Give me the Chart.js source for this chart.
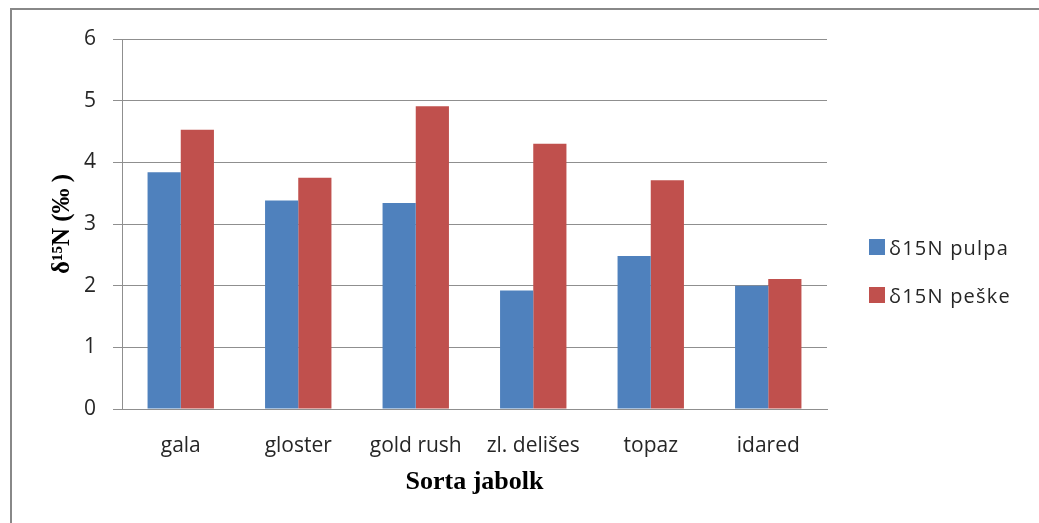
<!DOCTYPE html>
<html>
<head>
<meta charset="utf-8">
<script src="https://cdn.jsdelivr.net/npm/chart.js@4"></script>
<style>
    body { margin: 0; background: #fff; overflow: hidden; }
    #frame {
        position: absolute; left: 10px; top: 8px;
        width: 1200px; height: 700px;
        border: 2px solid #888;
    }
    #wrap { position: absolute; left: 0; top: 0; width: 1039px; height: 523px; }
    #legend {
        position: absolute; left: 869px; top: 235px;
        font-family: "Open Sans", sans-serif; font-size: 20px; color: #262626;
        letter-spacing: 1.2px;
    }
    .legend-row { display: flex; align-items: center; height: 24px; margin-bottom: 24px; }
    .legend-box { width: 16px; height: 16px; margin-right: 4px; }
</style>
</head>
<body>
<div id="frame"></div>
<div id="wrap"><canvas id="isotopeChart" width="1039" height="523"></canvas></div>
<div id="legend"></div>

<script>
const categories = ['gala', 'gloster', 'gold rush', 'zl. delišes', 'topaz', 'idared'];
const pulpa = [3.84, 3.38, 3.34, 1.92, 2.48, 2.00];
const peske = [4.53, 3.75, 4.91, 4.30, 3.71, 2.11];
const seriesNames = ['δ15N pulpa', 'δ15N peške'];
const seriesColors = ['#4F81BD', '#C0504D'];
const yMin = 0;
const yMax = 6;
const yStep = 1;

const gridColor = '#8f8f8f';
const tickFont = { family: '"Open Sans", sans-serif', size: 21 };

//..legend on the right
const legendBox = document.getElementById('legend');
seriesNames.forEach((name, i) => {
    const row = document.createElement('div');
    row.className = 'legend-row';
    row.innerHTML = `
        <span class="legend-box" style="background:${seriesColors[i]}"></span>
        <span>${name}</span>
    `;
    legendBox.appendChild(row);
});

new Chart(document.getElementById('isotopeChart'), {
    type: 'bar',
    data: {
        labels: categories,
        datasets: [
            { label: seriesNames[0], data: pulpa, backgroundColor: seriesColors[0] },
            { label: seriesNames[1], data: peske, backgroundColor: seriesColors[1] }
        ]
    },
    options: {
        responsive: false,
        animation: false,
        layout: {
            padding: { left: 0, top: 39, right: 212, bottom: 14 }
        },
        datasets: {
            bar: { categoryPercentage: 0.565, barPercentage: 1 }
        },
        plugins: {
            legend: { display: false },
            tooltip: { enabled: false }
        },
        scales: {
            x: {
                grid: { display: false, drawTicks: false },
                border: { display: true, color: gridColor, width: 1 },
                ticks: { color: '#262626', font: tickFont, padding: 24 },
                title: {
                    display: true,
                    text: 'Sorta jabolk',
                    color: '#000',
                    font: { family: '"Liberation Serif", serif', size: 26, weight: 'bold' },
                    padding: { top: 0, bottom: 11 }
                },
                afterFit(scale) { scale.height = 100; }
            },
            y: {
                min: yMin,
                max: yMax,
                ticks: { stepSize: yStep, color: '#262626', font: tickFont, padding: 17 },
                grid: { color: gridColor, lineWidth: 1, tickLength: 9, drawTicks: true },
                border: { display: true, color: gridColor, width: 1 },
                title: {
                    display: true,
                    text: 'δ¹⁵N (‰ )',
                    color: '#000',
                    font: { family: '"Liberation Serif", serif', size: 25, weight: 'bold' },
                    padding: { top: 48, bottom: 0 }
                },
                afterFit(scale) { scale.width = 122; }
            }
        }
    }
});
</script>
</body>
</html>
